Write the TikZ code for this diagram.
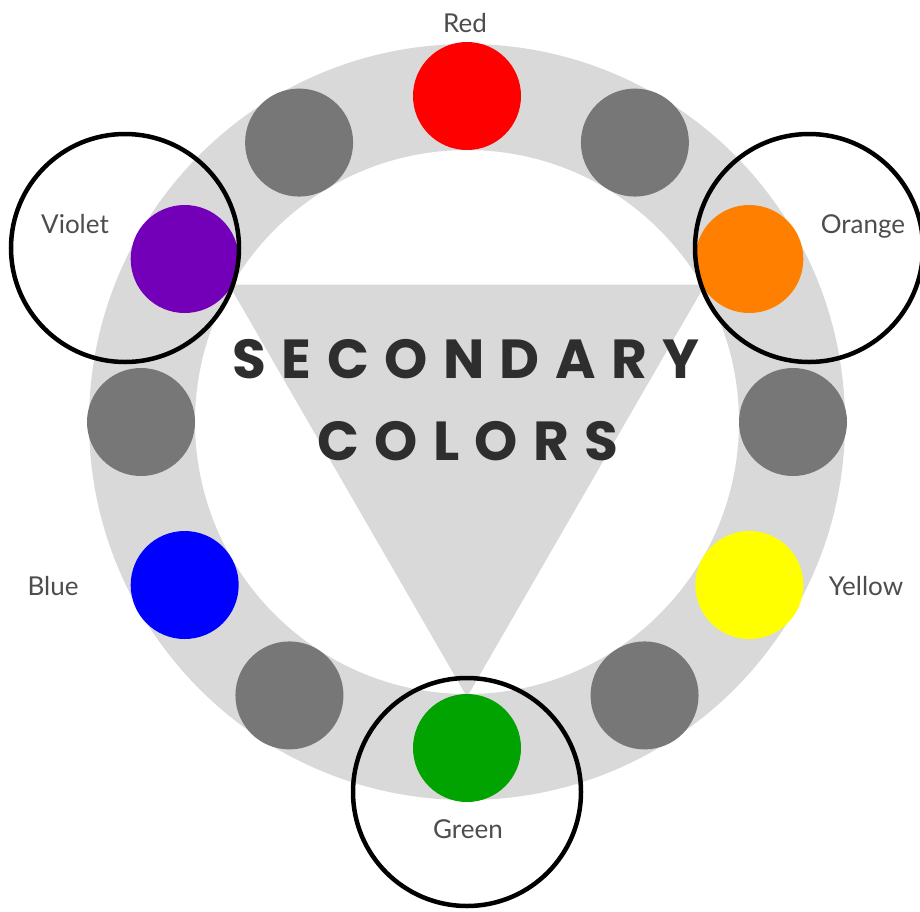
\documentclass[tikz,border=0pt]{standalone}
\usepackage{fontspec}
\setmainfont{Lato}
\newfontfamily\titlefont[LetterSpace=28]{Poppins}
\usepackage{tikz}
\usetikzlibrary{positioning}

\definecolor{ringgray}{HTML}{D9D9D9}
\definecolor{dotgray}{HTML}{777777}
\definecolor{huered}{HTML}{FF0000}
\definecolor{hueorange}{HTML}{FF8000}
\definecolor{hueyellow}{HTML}{FFFF00}
\definecolor{huegreen}{HTML}{00A300}
\definecolor{hueblue}{HTML}{0000FF}
\definecolor{hueviolet}{HTML}{7300B8}
\definecolor{labelgray}{HTML}{4D4D4D}
\definecolor{titleink}{HTML}{2E2E2E}

\begin{document}
\begin{tikzpicture}[
    x=1pt, y=-1pt,
    dot/.style={circle, minimum size=108pt, inner sep=0pt},
    halo/.style={circle, draw=black, line width=4.5pt, minimum size=228pt, inner sep=0pt},
    lbl/.style={text=labelgray, font=\fontsize{26}{26}\selectfont, anchor=base, inner sep=0pt},
    title/.style={text=titleink, font=\titlefont\bfseries\fontsize{55}{55}\selectfont, anchor=base, inner sep=0pt}
]
\useasboundingbox[fill=white] (0,0) rectangle (920,911);

\begin{scope}[shift={(467,422)}]
\fill[ringgray] (-150:275) -- (-30:275) -- (-270:275) -- cycle;
\fill[ringgray, even odd rule] (0,0) circle[radius=378] (0,0) circle[radius=272];
\foreach \ang/\name/\col in {90/red/huered, 59/grayA/dotgray, 30/orange/hueorange,
    0/grayB/dotgray, 330/yellow/hueyellow, 303/grayC/dotgray, 270/green/huegreen,
    237/grayD/dotgray, 210/blue/hueblue, 180/grayE/dotgray, 150/violet/hueviolet,
    121/grayF/dotgray}
  \node[dot, fill=\col] (\name) at ({-\ang}:326) {};
\end{scope}

\node[title] (secondary) at (466,378) {SECONDARY};
\node[title] (colors) at (468,460) {COLORS};

\node[halo] (violetring) at (125,248) {};
\node[halo] (orangering) at (809,248) {};
\node[halo] (greenring) at (467,792) {};

\node[lbl] (redlbl) at (465,32) {Red};
\node[lbl] (violetlbl) at (75,233) {Violet};
\node[lbl] (orangelbl) at (863,233) {Orange};
\node[lbl] (bluelbl) at (53,595) {Blue};
\node[lbl] (yellowlbl) at (866,595) {Yellow};
\node[lbl] (greenlbl) at (468,838) {Green};
\end{tikzpicture}
\end{document}
